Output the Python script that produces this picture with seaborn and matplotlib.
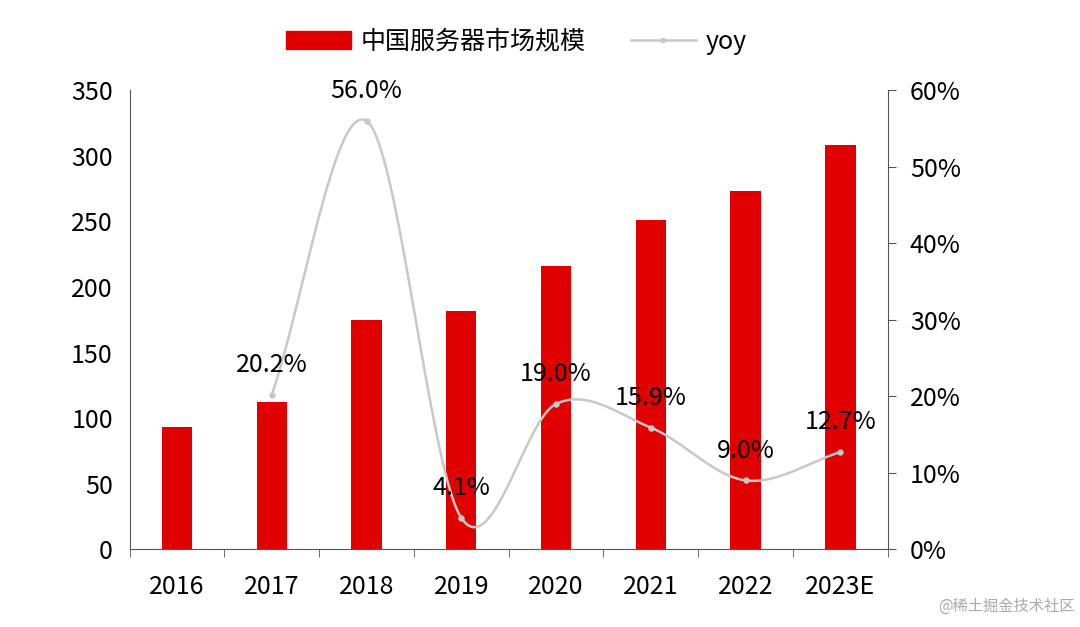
import matplotlib
matplotlib.use("Agg")
import matplotlib.pyplot as plt
import matplotlib.lines as mlines
import matplotlib.patches as mpatches
from matplotlib import font_manager
import numpy as np
import pandas as pd
import seaborn as sns

names = {f.name for f in font_manager.fontManager.ttflist}
cjk = [n for n in ["Noto Sans CJK SC", "Noto Sans CJK JP", "Noto Sans CJK TC"] if n in names]
plt.rcParams["font.family"] = "sans-serif"
plt.rcParams["font.sans-serif"] = cjk + ["DejaVu Sans"]

years = ["2016", "2017", "2018", "2019", "2020", "2021", "2022", "2023E"]
market = [93, 112, 175, 182, 216, 251, 273, 308]
yoy_years = ["2017", "2018", "2019", "2020", "2021", "2022", "2023E"]
yoy = [20.2, 56.0, 4.1, 19.0, 15.9, 9.0, 12.7]

RED = "#E00000"
GREY = "#C8C8C8"
FS = 18

df = pd.DataFrame({"year": years, "market": market})

fig = plt.figure(figsize=(10.8, 6.27), dpi=100)
ax = fig.add_axes([0.12, 0.124, 0.702, 0.732])
sns.barplot(data=df, x="year", y="market", color=RED, width=0.32,
            saturation=1, ax=ax)
ax.set_ylim(0, 350)
ax.set_yticks(range(0, 351, 50))
ax.set_xlabel("")
ax.set_ylabel("")
ax.tick_params(axis="y", labelsize=FS, length=0, pad=12)
ax.tick_params(axis="x", labelsize=FS, length=0, pad=18)
ax.set_xticks(np.arange(len(years) + 1) - 0.5, minor=True)
ax.tick_params(axis="x", which="minor", length=6, color="#555555")
for s in ["left", "bottom"]:
    ax.spines[s].set_color("#555555")
ax.spines["top"].set_visible(False)
ax.spines["right"].set_visible(False)
ax.set_xlim(-0.5, len(years) - 0.5)

ax2 = ax.twinx()
ax2.set_ylim(0, 60)
ax2.set_yticks(range(0, 61, 10))
ax2.set_yticklabels([f"{v}%" for v in range(0, 61, 10)])
ax2.tick_params(axis="y", labelsize=FS, length=6, color="#555555", pad=10)
for s in ["top", "left", "bottom"]:
    ax2.spines[s].set_visible(False)
ax2.spines["right"].set_color("#555555")

# smoothed line (Catmull-Rom) through the yoy points, drawn for styling only
xs = np.array([years.index(y) for y in yoy_years], dtype=float)
ys = np.array(yoy, dtype=float)
px = np.concatenate([[2 * xs[0] - xs[1]], xs, [2 * xs[-1] - xs[-2]]])
py = np.concatenate([[2 * ys[0] - ys[1]], ys, [2 * ys[-1] - ys[-2]]])
cx, cy = [], []
t = np.linspace(0, 1, 40)
for i in range(1, len(px) - 2):
    for arr, out in ((px, cx), (py, cy)):
        p0, p1, p2, p3 = arr[i - 1:i + 3]
        out.extend(0.5 * ((2 * p1) + (-p0 + p2) * t
                          + (2 * p0 - 5 * p1 + 4 * p2 - p3) * t ** 2
                          + (-p0 + 3 * p1 - 3 * p2 + p3) * t ** 3))
ax2.plot(cx, cy, color=GREY, lw=1.8)
sns.scatterplot(x=xs, y=ys, color=GREY, s=18, edgecolor=GREY, ax=ax2, zorder=3)
for x, y in zip(xs, ys):
    ax2.annotate(f"{y:.1f}%", (x, y), xytext=(0, 12), textcoords="offset points",
                 ha="center", va="bottom", fontsize=FS)

handles = [mpatches.Patch(color=RED, label="中国服务器市场规模"),
           mlines.Line2D([], [], color=GREY, marker="o", markersize=3, lw=1.8, label="yoy")]
fig.legend(handles=handles, loc="upper center", bbox_to_anchor=(0.478, 0.99), ncol=2,
           frameon=False, fontsize=FS, handlelength=2.6, handletextpad=0.4,
           columnspacing=1.8)

fig.text(0.995, 0.02, "@稀土掘金技术社区", ha="right", va="bottom", fontsize=11, color="#AAAAAA")

fig.savefig("out.png", dpi=100)
